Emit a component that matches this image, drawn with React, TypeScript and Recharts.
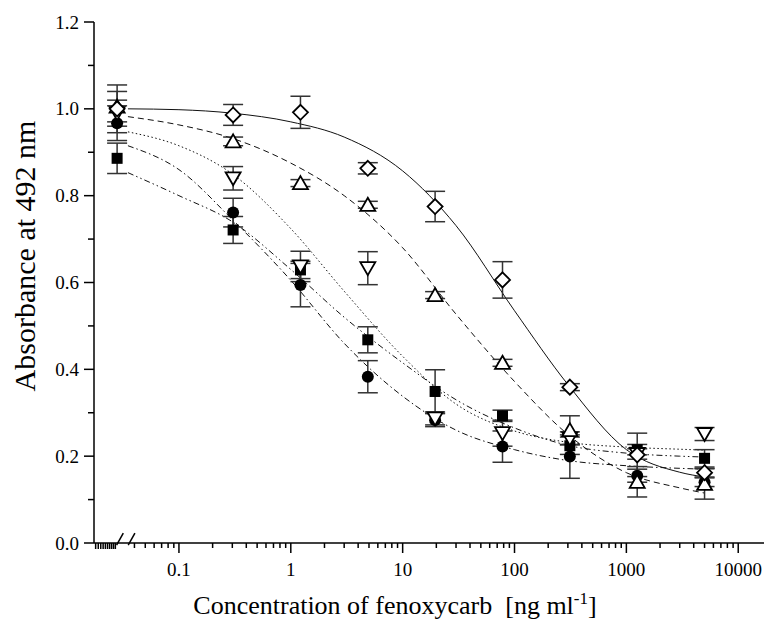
import React from 'react';
import { ComposedChart, Scatter, Line, XAxis, YAxis, ErrorBar, ReferenceLine, Label } from 'recharts';

// concentrations (ng/ml); first one is the blank, drawn left of the axis break
const conc = [0.028, 0.305, 1.22, 4.88, 19.5, 78.1, 312.5, 1250, 5000];

const diamondY = [1.0, 0.986, 0.992, 0.863, 0.775, 0.606, 0.359, 0.203, 0.162];
const diamondErr = [0.055, 0.024, 0.037, 0.013, 0.035, 0.042, 0.008, 0.05, 0.01];
const triUpY = [1.005, 0.925, 0.829, 0.779, 0.571, 0.415, 0.26, 0.141, 0.136];
const triUpErr = [0.035, 0.01, 0.008, 0.008, 0.008, 0.008, 0.033, 0.035, 0.035];
const triDownY = [0.99, 0.84, 0.637, 0.633, 0.287, 0.253, 0.241, 0.205, 0.251];
const triDownErr = [0.03, 0.027, 0.035, 0.038, 0.015, 0.03, 0.015, 0.012, 0.015];
const circleY = [0.967, 0.761, 0.594, 0.383, 0.283, 0.222, 0.199, 0.155, 0.14];
const circleErr = [0.04, 0.033, 0.05, 0.037, 0.015, 0.036, 0.05, 0.015, 0.01];
const squareY = [0.886, 0.721, 0.629, 0.468, 0.349, 0.293, 0.224, 0.215, 0.195];
const squareErr = [0.035, 0.031, 0.02, 0.03, 0.05, 0.013, 0.02, 0.012, 0.02];

// fitted curves
const fitX = [0.035, 0.1, 0.3, 1, 3, 10, 30, 100, 300, 1000, 3000, 5000];
const fitDiamond = [1.0, 0.998, 0.99, 0.97, 0.935, 0.857, 0.731, 0.535, 0.365, 0.215, 0.163, 0.152];
const fitTriUp = [0.982, 0.963, 0.932, 0.875, 0.8, 0.68, 0.527, 0.372, 0.25, 0.162, 0.127, 0.115];
const fitTriDown = [0.947, 0.915, 0.85, 0.724, 0.58, 0.43, 0.32, 0.258, 0.232, 0.221, 0.216, 0.214];
const fitCircle = [0.915, 0.86, 0.745, 0.605, 0.46, 0.338, 0.26, 0.215, 0.19, 0.178, 0.172, 0.17];
const fitSquare = [0.853, 0.8, 0.74, 0.63, 0.52, 0.415, 0.33, 0.265, 0.225, 0.207, 0.2, 0.198];

const xMajor = [0.1, 1, 10, 100, 1000, 10000];
const xLabels = ['0.1', '1', '10', '100', '1000', '10000'];
const yTicks = [0, 0.1, 0.2, 0.3, 0.4, 0.5, 0.6, 0.7, 0.8, 0.9, 1.0, 1.1, 1.2];
const yLabels = ['0.0', '', '0.2', '', '0.4', '', '0.6', '', '0.8', '', '1.0', '', '1.2'];

// minor ticks: dense block before the break, then 2..9 per decade
const blockTicks: number[] = [];
for (let i = 18; i <= 27; i++) blockTicks.push(i / 1000);
const minorTicks: number[] = [];
for (let d = -2; d <= 3; d++) {
  for (let k = 2; k <= 9; k++) {
    const v = k * Math.pow(10, d);
    if (v >= 0.04) minorTicks.push(v);
  }
}
const xTicks = [...blockTicks, ...minorTicks, ...xMajor].sort((a, b) => a - b);

const FONT = "'Liberation Serif', 'Times New Roman', serif";

const toPoints = (ys: number[], errs: number[]) => conc.map((x, i) => ({ x, y: ys[i], err: errs[i] }));
const toCurve = (ys: number[]) => fitX.map((x, i) => ({ x, y: ys[i] }));

const Diamond = (p: any) => {
  const { cx, cy } = p;
  const r = 7.5;
  return <path d={`M${cx},${cy - r}L${cx + r},${cy}L${cx},${cy + r}L${cx - r},${cy}Z`} fill="#fff" stroke="#000" strokeWidth={1.8} />;
};
const TriUp = (p: any) => {
  const { cx, cy } = p;
  return <path d={`M${cx},${cy - 7}L${cx + 7.5},${cy + 6}L${cx - 7.5},${cy + 6}Z`} fill="#fff" stroke="#000" strokeWidth={1.8} />;
};
const TriDown = (p: any) => {
  const { cx, cy } = p;
  return <path d={`M${cx},${cy + 7}L${cx + 7.5},${cy - 6}L${cx - 7.5},${cy - 6}Z`} fill="#fff" stroke="#000" strokeWidth={1.8} />;
};
const Dot = (p: any) => <circle cx={p.cx} cy={p.cy} r={6} fill="#000" />;
const Sq = (p: any) => <rect x={p.cx - 5.5} y={p.cy - 5.5} width={11} height={11} fill="#000" />;

const XTick = (props: any) => {
  const { x, y, payload } = props;
  const v = payload.value;
  const idx = xMajor.indexOf(v);
  const len = idx >= 0 ? 10 : blockTicks.includes(v) ? 6 : 5;
  return (
    <g>
      <line x1={x} y1={y} x2={x} y2={y + len} stroke="#000" strokeWidth={1.5} />
      {idx >= 0 && (
        <text x={x} y={y + 33} textAnchor="middle" fontSize={19} fontFamily={FONT} fill="#000">
          {xLabels[idx]}
        </text>
      )}
    </g>
  );
};

const YTick = (props: any) => {
  const { x, y, index } = props;
  const lbl = yLabels[index];
  return (
    <g>
      <line x1={x} y1={y} x2={x - (lbl ? 10 : 6)} y2={y} stroke="#000" strokeWidth={1.5} />
      {lbl && (
        <text x={x - 15} y={y + 6.5} textAnchor="end" fontSize={19} fontFamily={FONT} fill="#000">
          {lbl}
        </text>
      )}
    </g>
  );
};

const XTitle = () => (
  <text x={395} y={614} textAnchor="middle" fontSize={26} fontFamily={FONT} fill="#000">
    Concentration of fenoxycarb{'\u00a0\u00a0'}[ng ml<tspan dy={-10} fontSize={17}>-1</tspan>
    <tspan dy={10}>]</tspan>
  </text>
);

const YTitle = () => (
  <text x={35} y={256} transform="rotate(-90 35 256)" textAnchor="middle" fontSize={30} fontFamily={FONT} fill="#000">
    Absorbance at 492 nm
  </text>
);

const errStyle = { width: 10, stroke: '#333', strokeWidth: 1.5 };

export default function App() {
  return (
    <div style={{ position: 'absolute', left: 0, top: 0, background: '#fff' }}>
      <ComposedChart width={769} height={631} margin={{ top: 22, right: 5, bottom: 0, left: 0 }}>
        <XAxis
          dataKey="x"
          type="number"
          scale="log"
          domain={[0.0174, 17000]}
          allowDataOverflow
          ticks={xTicks}
          interval={0}
          tick={<XTick />}
          tickLine={false}
          tickSize={0}
          tickMargin={0}
          height={88}
          axisLine={{ stroke: '#000', strokeWidth: 1.5 }}
        >
          <Label content={<XTitle />} />
        </XAxis>
        <YAxis
          dataKey="y"
          type="number"
          domain={[0, 1.2]}
          ticks={yTicks}
          interval={0}
          tick={<YTick />}
          tickLine={false}
          tickSize={0}
          tickMargin={0}
          width={94}
          axisLine={{ stroke: '#000', strokeWidth: 1.5 }}
        >
          <Label content={<YTitle />} />
        </YAxis>

        <ReferenceLine segment={[{ x: 0.0277, y: -0.005 }, { x: 0.0318, y: 0.023 }]} stroke="#000" strokeWidth={1.5} ifOverflow="visible" />
        <ReferenceLine segment={[{ x: 0.0352, y: -0.005 }, { x: 0.0404, y: 0.023 }]} stroke="#000" strokeWidth={1.5} ifOverflow="visible" />

        <Line data={toCurve(fitDiamond)} dataKey="y" type="monotone" stroke="#111" strokeWidth={1} dot={false} isAnimationActive={false} />
        <Line data={toCurve(fitTriUp)} dataKey="y" type="monotone" stroke="#111" strokeWidth={1} strokeDasharray="6 4" dot={false} isAnimationActive={false} />
        <Line data={toCurve(fitTriDown)} dataKey="y" type="monotone" stroke="#111" strokeWidth={1} strokeDasharray="1.5 2.5" dot={false} isAnimationActive={false} />
        <Line data={toCurve(fitCircle)} dataKey="y" type="monotone" stroke="#111" strokeWidth={1} strokeDasharray="6 3 1.5 3" dot={false} isAnimationActive={false} />
        <Line data={toCurve(fitSquare)} dataKey="y" type="monotone" stroke="#111" strokeWidth={1} strokeDasharray="6 3 1.5 3 1.5 3" dot={false} isAnimationActive={false} />

        <Scatter data={toPoints(squareY, squareErr)} dataKey="y" shape={<Sq />} isAnimationActive={false}>
          <ErrorBar dataKey="err" direction="y" {...errStyle} />
        </Scatter>
        <Scatter data={toPoints(circleY, circleErr)} dataKey="y" shape={<Dot />} isAnimationActive={false}>
          <ErrorBar dataKey="err" direction="y" {...errStyle} />
        </Scatter>
        <Scatter data={toPoints(triDownY, triDownErr)} dataKey="y" shape={<TriDown />} isAnimationActive={false}>
          <ErrorBar dataKey="err" direction="y" {...errStyle} />
        </Scatter>
        <Scatter data={toPoints(triUpY, triUpErr)} dataKey="y" shape={<TriUp />} isAnimationActive={false}>
          <ErrorBar dataKey="err" direction="y" {...errStyle} />
        </Scatter>
        <Scatter data={toPoints(diamondY, diamondErr)} dataKey="y" shape={<Diamond />} isAnimationActive={false}>
          <ErrorBar dataKey="err" direction="y" {...errStyle} />
        </Scatter>
      </ComposedChart>
    </div>
  );
}
